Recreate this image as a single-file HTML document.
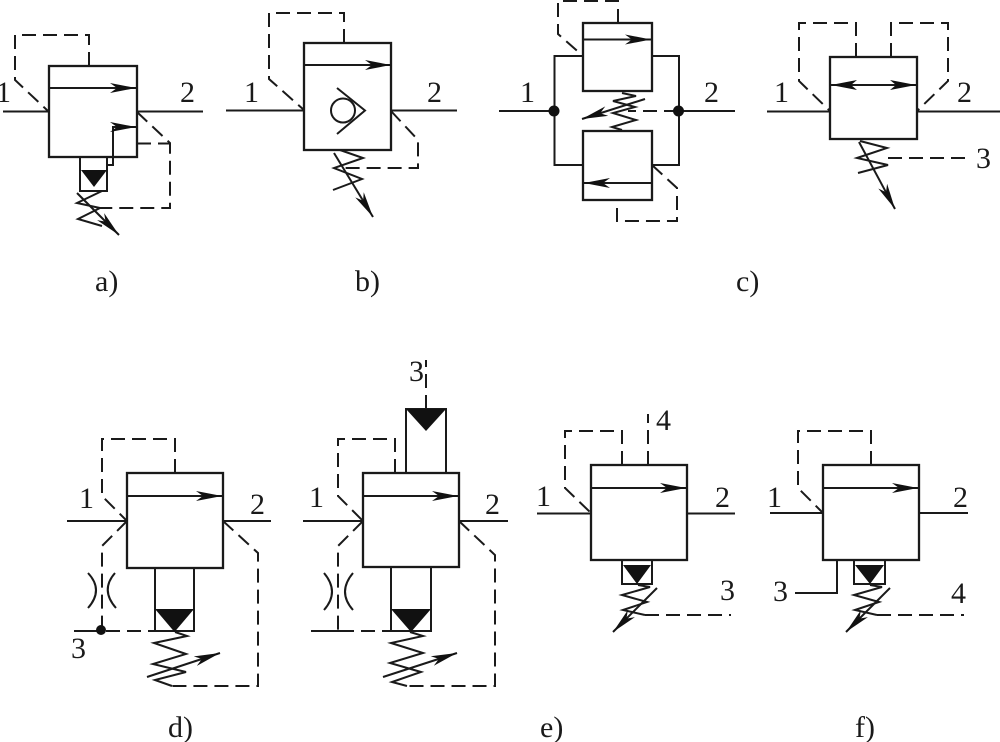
<!DOCTYPE html>
<html><head><meta charset="utf-8"><style>
html,body{margin:0;padding:0;background:#fff}
svg{display:block}
text{font-family:"Liberation Serif",serif;font-size:30px;fill:#1a1a1a}
.c{font-size:30px}
.s{fill:none;stroke:#1a1a1a;stroke-width:2;stroke-linejoin:miter}
.b{fill:#fff;stroke:#1a1a1a;stroke-width:2.3}
.d{fill:none;stroke:#1a1a1a;stroke-width:2;stroke-dasharray:14 7}
.t{fill:#111;stroke:none}
.a{marker-end:url(#h)}
</style></head><body>
<svg width="1000" height="742" viewBox="0 0 1000 742" xmlns="http://www.w3.org/2000/svg">
<defs><marker id="h" markerUnits="userSpaceOnUse" markerWidth="28" markerHeight="12" refX="26" refY="5" orient="auto"><path d="M26,5 L0,0 L7,5 L0,10Z" fill="#111"/></marker></defs>

<!-- a -->
<path class="s" d="M3 111.5H49M137 111.5H203"/>
<rect class="b" x="49" y="66" width="88" height="91"/>
<path class="s a" d="M49 88H136"/>
<path class="s a" d="M107 165H113V127H136"/>
<path class="d" d="M89 66V35H15V80L48 111"/>
<path class="d" d="M137 112L170 143V208H100M137 143.5H170"/>
<rect class="s" x="80" y="157" width="27" height="34"/>
<path class="t" d="M81 170H107L94 187Z"/>
<path class="s" d="M102 191L77 203L100 208L78 219L102 226"/>
<path class="s a" d="M77 193L119 235"/>
<text x="-4" y="102">1</text><text x="180" y="102">2</text><text class="c" x="95" y="291">a)</text>

<!-- b -->
<path class="s" d="M226 110.500H332M365 110.500H457"/>
<rect class="b" x="304" y="43" width="87" height="107"/>
<path class="s a" d="M304 65H391"/>
<circle class="s" cx="343" cy="110.500" r="12"/>
<path class="s" d="M337 88L365 110.500L337 134"/>
<path class="d" d="M344 43V13H269V79L304 110"/>
<path class="d" d="M391 111L418 140V168H340"/>
<path class="s" d="M340 150L363 158L334 168L362 179L333 190"/>
<path class="s a" d="M334 153L373 217"/>
<text x="244" y="102">1</text><text x="427" y="102">2</text><text class="c" x="355" y="291">b)</text>

<!-- c -->
<path class="s" d="M499 111H554M678 111H735M583 56H554.500V165H583M652 56H679V165H652"/>
<rect class="b" x="583" y="23" width="69" height="68"/>
<rect class="b" x="583" y="131" width="69" height="69"/>
<path class="s a" d="M584 39.500H651"/>
<path class="s a" d="M651 183H584"/>
<path class="d" d="M618 23V1H558V34L583 56"/>
<path class="d" d="M652 165L677 188V221H617V200"/>
<path class="s" d="M622 93L636 96L613 101L635 107L613 113L636 120L612 127L622 130"/>
<path class="s a" d="M645 99L582 119"/>
<path class="d" d="M678 111H628"/>
<circle cx="554" cy="111" r="5.500" fill="#111"/><circle cx="678.500" cy="111" r="5.500" fill="#111"/>
<text x="520" y="102">1</text><text x="704" y="102">2</text><text class="c" x="736" y="291">c)</text>

<!-- top right -->
<path class="s" d="M767 111.500H830M917 111.500H1000"/>
<rect class="b" x="830" y="57" width="87" height="82"/>
<path class="s" d="M831 85H916"/>
<path class="t" d="M831 85L857 80L851 85L857 90Z"/>
<path class="t" d="M916 85L890 80L896 85L890 90Z"/>
<path class="d" d="M856 57V23H799V81L830 111"/>
<path class="d" d="M891 57V23H948V81L917 111"/>
<path class="s" d="M860 141L887 148L857 158L888 165L858 173"/>
<path class="d" d="M888 158H965"/>
<path class="s a" d="M859 142L895 209"/>
<text x="774" y="102">1</text><text x="957" y="102">2</text><text x="976" y="168">3</text>

<!-- d -->
<path class="s" d="M67 521H127M223 521H271M74 631H101"/>
<rect class="b" x="127" y="473" width="96" height="95"/>
<path class="s a" d="M127 496H222"/>
<path class="d" d="M175 473V439H102V496L127 521"/>
<path class="d" d="M127 521L102 546V630"/>
<path class="d" d="M223 521L258 553V686H170"/>
<path class="d" d="M106 631H155"/>
<rect class="s" x="155" y="568" width="39" height="63"/>
<path class="t" d="M155 609H194L174.500 632Z"/>
<path class="s" d="M175 632L187 636L154 643L186 654L153 664L186 672L155 680L172 686"/>
<path class="s a" d="M147 677L220 653"/>
<path class="s" d="M88 573Q104 590 88 608M115 573Q100 590 116 608"/>
<circle cx="101" cy="630" r="5" fill="#111"/>
<text x="79" y="508">1</text><text x="250" y="514">2</text><text x="71" y="658">3</text><text class="c" x="168" y="737">d)</text>

<!-- e -->
<path class="s" d="M303 521H363M459 521H508M311 631H340"/>
<rect class="s" x="406" y="409" width="40" height="64"/>
<path class="t" d="M406 409H446L426 431Z"/>
<path class="d" d="M426 409V360"/>
<rect class="b" x="363" y="473" width="96" height="94"/>
<path class="s a" d="M363 496H458"/>
<path class="d" d="M395 473V439H338V496L363 521"/>
<path class="d" d="M363 521L338 546V631"/>
<path class="d" d="M459 521L495 555V686H407"/>
<path class="d" d="M340 631H391"/>
<rect class="s" x="391" y="567" width="40" height="64"/>
<path class="t" d="M391 609H431L411 632Z"/>
<path class="s" d="M410 632L423 636L391 643L423 653L390 663L421 672L392 682L407 686"/>
<path class="s a" d="M383 677L457 653"/>
<path class="s" d="M324 573Q340 592 324 610M353 573Q337 592 353 610"/>
<text x="309" y="507">1</text><text x="485" y="514">2</text><text x="409" y="381">3</text><text class="c" x="540" y="737">e)</text>

<!-- third bottom -->
<path class="s" d="M537 513.500H591M687 513.500H735"/>
<rect class="b" x="591" y="465" width="96" height="95"/>
<path class="s a" d="M591 488H686"/>
<path class="d" d="M622 465V431H565V488L591 513"/>
<path class="d" d="M648 465V414"/>
<rect class="s" x="622" y="560" width="30" height="24"/>
<path class="t" d="M623 565H651L637 584Z"/>
<path class="s" d="M638 585L650 587L622 595L647 602L623 610L645 615"/>
<path class="d" d="M645 615H731"/>
<path class="s a" d="M657 588L613 632"/>
<text x="536" y="506">1</text><text x="715" y="507">2</text><text x="656" y="430">4</text><text x="720" y="600">3</text>

<!-- f -->
<path class="s" d="M770 513H823M919 513H968M837 560V593H795"/>
<rect class="b" x="823" y="465" width="96" height="95"/>
<path class="s a" d="M823 488H918"/>
<path class="d" d="M871 465V431H798V488L823 513"/>
<rect class="s" x="854" y="560" width="31" height="24"/>
<path class="t" d="M855 565H884L870 584Z"/>
<path class="s" d="M870 585L882 587L854 595L879 602L855 610L877 615"/>
<path class="d" d="M877 615H964"/>
<path class="s a" d="M890 588L846 632"/>
<text x="767" y="507">1</text><text x="953" y="507">2</text><text x="773" y="601">3</text><text x="951" y="603">4</text><text class="c" x="855" y="737">f)</text>
</svg>
</body></html>
